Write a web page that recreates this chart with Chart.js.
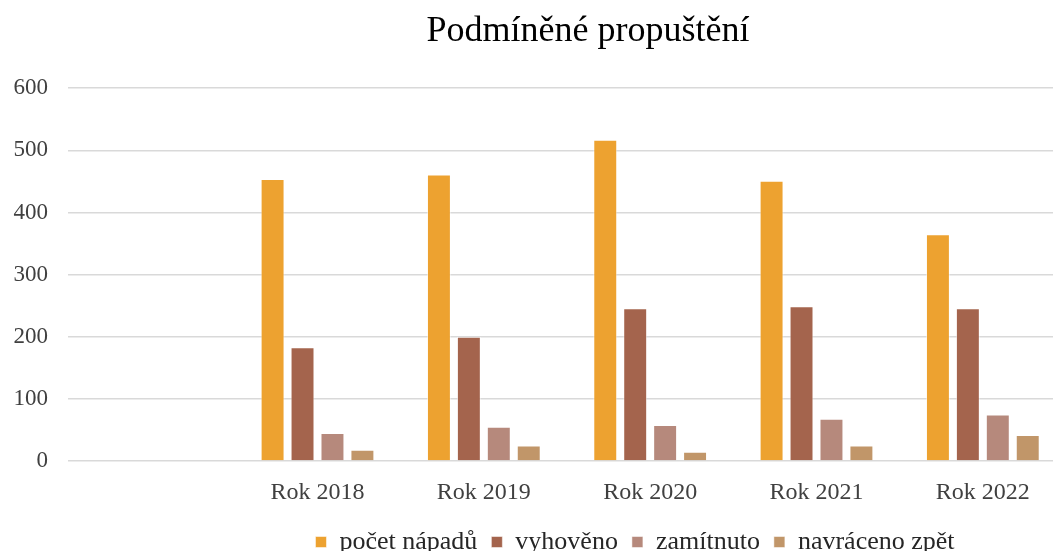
<!DOCTYPE html>
<html>
<head>
<meta charset="utf-8">
<script src="https://cdn.jsdelivr.net/npm/chart.js@4"></script>
<style>
  html, body { margin: 0; padding: 0; overflow: hidden; background: #fff; }
  #wrap { width: 1066px; height: 551px; }
</style>
</head>
<body>
<div id="wrap"><canvas id="myChart"></canvas></div>
<script>
const categories = ['', 'Rok 2018', 'Rok 2019', 'Rok 2020', 'Rok 2021', 'Rok 2022'];
const seriesNames = ['počet nápadů', 'vyhověno', 'zamítnuto', 'navráceno zpět'];
const pocetNapadu = [null, 454, 461, 517, 451, 365];
const vyhoveno = [null, 183, 200, 246, 249, 246];
const zamitnuto = [null, 45, 55, 58, 68, 75];
const navraceno = [null, 18, 25, 15, 25, 42];
const yTicks = [0, 100, 200, 300, 400, 500, 600];

const colors = ['#eda230', '#a4644d', '#b6897c', '#c19669'];
const serif = "'Liberation Serif', 'Times New Roman', serif";

// legenda ma pevnou vysku, titulek a legendu posuneme jako v originale
const shiftPlugin = {
    id: 'shift',
    afterInit(chart) {
        const legend = chart.legend;
        const origFit = legend.fit;
        legend.fit = function () {
            origFit.call(this);
            this.height = 45;
        };
    },
    beforeDraw(chart) {
        const t = chart.titleBlock;
        const tw = t.right - t.left;
        t.left = 588 - tw / 2;
        t.right = t.left + tw;
        const l = chart.legend;
        const lw = l.right - l.left;
        l.left = 635 - lw / 2;
        l.right = l.left + lw;
        const lh = l.bottom - l.top;
        l.top = 542 - 14 - 13;
        l.bottom = l.top + lh;
    }
};

const data = {
    labels: categories,
    datasets: [pocetNapadu, vyhoveno, zamitnuto, navraceno].map((vals, i) => ({
        label: seriesNames[i],
        data: vals,
        backgroundColor: colors[i],
        borderColor: 'rgba(255,255,255,0.5)',
        borderWidth: 1,
        barPercentage: 0.8,
        categoryPercentage: 0.72
    }))
};

new Chart(document.getElementById('myChart'), {
    type: 'bar',
    data: data,
    plugins: [shiftPlugin],
    options: {
        responsive: true,
        maintainAspectRatio: false,
        animation: false,
        layout: { padding: 0 },
        plugins: {
            title: {
                display: true,
                text: 'Podmíněné propuštění',
                color: '#000',
                font: { family: serif, size: 36, weight: 'normal' },
                padding: { top: 10, bottom: 35 }
            },
            legend: {
                position: 'bottom',
                labels: {
                    color: '#262626',
                    font: { family: serif, size: 26 },
                    boxWidth: 11,
                    boxHeight: 11,
                    padding: 14
                }
            },
            tooltip: { enabled: false }
        },
        scales: {
            x: {
                afterFit(scale) { scale.height = 45; },
                grid: { display: false, drawTicks: false },
                border: { display: false },
                ticks: {
                    color: '#404040',
                    font: { family: serif, size: 24 },
                    padding: 17
                }
            },
            y: {
                min: 0,
                max: 600,
                afterFit(scale) { scale.width = 68; },
                afterBuildTicks(scale) { scale.ticks = yTicks.map(v => ({ value: v })); },
                grid: { color: '#d9d9d9', lineWidth: 1.5, drawTicks: false },
                border: { display: false },
                ticks: {
                    color: '#404040',
                    font: { family: serif, size: 23 },
                    padding: 20
                }
            }
        }
    }
});
</script>
</body>
</html>
